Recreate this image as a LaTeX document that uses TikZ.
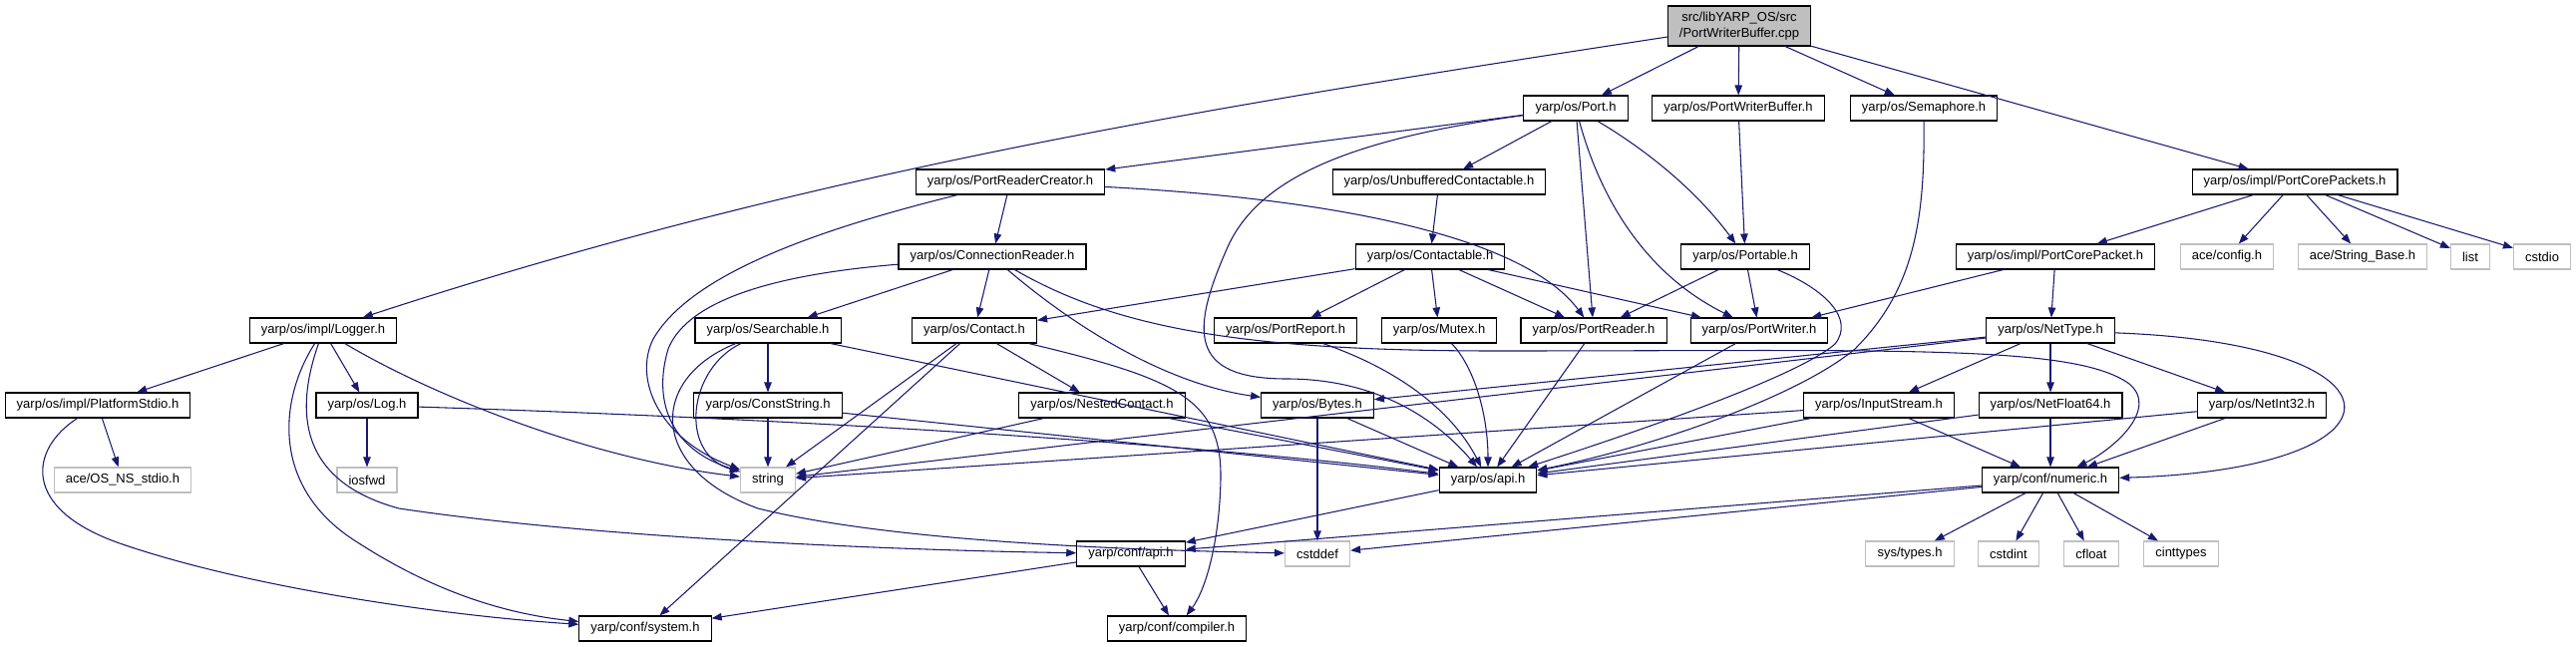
\documentclass[tikz,border=0pt]{standalone}
\usepackage{fontspec}
\setmainfont{Liberation Sans}
\usetikzlibrary{arrows.meta}
\definecolor{edgeblue}{HTML}{191970}
\definecolor{extgray}{HTML}{BFBFBF}
\newcommand\hfnt{\fontsize{9.75}{11.6}\selectfont}

\begin{document}
\begin{tikzpicture}[x=.75pt,y=-.75pt,
  hdr/.style={draw=black,line width=.8pt,inner xsep=8.7pt,inner ysep=0pt,minimum height=18.75pt,font=\hfnt},
  ext/.style={hdr,draw=extgray},
  inc/.style={draw=edgeblue,line width=.8pt,-{Triangle[length=7.5pt,width=5.6pt]}}]
\useasboundingbox(0,0)rectangle(2583,649);
\node[hdr,fill=extgray,align=center,minimum height=30pt](root)at(1744,26){src/libYARP\_OS/src\\/PortWriterBuffer.cpp};
\node[hdr](port)at(1580,108.5){yarp/os/Port.h};\node[hdr](pwb)at(1743,108.5){yarp/os/PortWriterBuffer.h};\node[hdr](sem)at(1929,108.5){yarp/os/Semaphore.h};
\node[hdr](prc)at(1013,182.5){yarp/os/PortReaderCreator.h};\node[hdr](ubc)at(1443,182.5){yarp/os/UnbufferedContactable.h};\node[hdr](pcps)at(2301,182.5){yarp/os/impl/PortCorePackets.h};
\node[hdr](conr)at(995,257.5){yarp/os/ConnectionReader.h};\node[hdr](ctbl)at(1434,257.5){yarp/os/Contactable.h};\node[hdr](ptbl)at(1750,257.5){yarp/os/Portable.h};\node[hdr](pcp)at(2061,257.5){yarp/os/impl/PortCorePacket.h};
\node[ext](acecfg)at(2233,257.5){ace/config.h};\node[ext](strb)at(2369,257.5){ace/String\_Base.h};\node[ext](lst)at(2477,257.5){list};\node[ext](cstdio)at(2549,257.5){cstdio};
\node[hdr](logger)at(324,331.5){yarp/os/impl/Logger.h};\node[hdr](srch)at(770,331.5){yarp/os/Searchable.h};\node[hdr](cont)at(977,331.5){yarp/os/Contact.h};\node[hdr](prep)at(1289,331.5){yarp/os/PortReport.h};
\node[hdr](mtx)at(1443,331.5){yarp/os/Mutex.h};\node[hdr](prd)at(1598,331.5){yarp/os/PortReader.h};\node[hdr](pwr)at(1764,331.5){yarp/os/PortWriter.h};\node[hdr](ntype)at(2056,331.5){yarp/os/NetType.h};
\node[hdr](pstd)at(98,406.5){yarp/os/impl/PlatformStdio.h};\node[hdr](lg)at(368,406.5){yarp/os/Log.h};\node[hdr](cstr)at(770,406.5){yarp/os/ConstString.h};\node[hdr](nest)at(1105,406.5){yarp/os/NestedContact.h};
\node[hdr](byt)at(1321,406.5){yarp/os/Bytes.h};\node[hdr](istr)at(1884,406.5){yarp/os/InputStream.h};\node[hdr](nf64)at(2056,406.5){yarp/os/NetFloat64.h};\node[hdr](ni32)at(2268,406.5){yarp/os/NetInt32.h};
\node[ext](osns)at(123,481.5){ace/OS\_NS\_stdio.h};\node[ext](iosf)at(368,481.5){iosfwd};\node[ext](str)at(770,481.5){string};\node[hdr](osapi)at(1492,481.5){yarp/os/api.h};\node[hdr](num)at(2056,481.5){yarp/conf/numeric.h};
\node[hdr](capi)at(1134,555.5){yarp/conf/api.h};\node[ext](cdef)at(1321,555.5){cstddef};\node[ext](stypes)at(1915,555.5){sys/types.h};\node[ext](cint)at(2014,555.5){cstdint};\node[ext](cflt)at(2097,555.5){cfloat};\node[ext](cinty)at(2187,555.5){cinttypes};
\node[hdr](csys)at(647,630.5){yarp/conf/system.h};\node[hdr](ccomp)at(1180,630.5){yarp/conf/compiler.h};
\draw[inc](root)..controls(1221,106)and(817,170)..(logger);\draw[inc](root)--(port);\draw[inc](root)--(pwb);\draw[inc](root)--(sem);\draw[inc](root)--(pcps);
\draw[inc](port)--(prc);\draw[inc](port)--(ubc);\draw[inc](port)--(prd);
\draw[inc](port)..controls(1350,140)and(1260,180)..(1230,250)..controls(1195,330)and(1190,380)..(1290,380)..controls(1380,380)and(1440,420)..(osapi);
\draw[inc](port)..controls(1605,200)and(1650,275)..(pwr);\draw[inc](port)..controls(1650,150)and(1700,190)..(ptbl);
\draw[inc](pwb)--(ptbl);\draw[inc](sem)..controls(1930,220)and(1920,290)..(1860,350)..controls(1800,400)and(1650,450)..(osapi);
\draw[inc](pcps)--(pcp);\draw[inc](pcps)--(acecfg);\draw[inc](pcps)--(strb);\draw[inc](pcps)--(lst);\draw[inc](pcps)--(cstdio);
\draw[inc](prc)--(conr);\draw[inc](prc)..controls(1350,200)and(1530,240)..(prd);
\draw[inc](prc)..controls(800,235)and(690,280)..(655,340)..controls(635,380)and(660,440)..(str);
\draw[inc](ubc)--(ctbl);
\draw[inc](conr)--(cont);\draw[inc](conr)--(srch);\draw[inc](conr)..controls(1080,330)and(1170,385)..(byt);
\draw[inc](conr)..controls(780,275)and(690,300)..(670,350)..controls(655,400)and(670,450)..(str);
\draw[inc](conr)..controls(1120,330)and(1250,352)..(1500,352)..controls(1900,352)and(2080,345)..(2135,385)..controls(2165,410)and(2120,450)..(num);
\draw[inc](ctbl)--(cont);\draw[inc](ctbl)--(prep);\draw[inc](ctbl)--(mtx);\draw[inc](ctbl)--(prd);\draw[inc](ctbl)--(pwr);
\draw[inc](ptbl)--(prd);\draw[inc](ptbl)--(pwr);\draw[inc](ptbl)..controls(1830,290)and(1860,320)..(1840,345)..controls(1800,380)and(1620,440)..(osapi);
\draw[inc](pcp)--(pwr);\draw[inc](pcp)--(ntype);
\draw[inc](logger)--(pstd);\draw[inc](logger)--(lg);\draw[inc](logger)..controls(430,395)and(590,460)..(str);
\draw[inc](logger)..controls(280,400)and(270,490)..(360,545)..controls(430,590)and(500,615)..(csys);
\draw[inc](logger)..controls(300,400)and(290,480)..(400,510)..controls(600,540)and(900,552)..(capi);
\draw[inc](pstd)--(osns);\draw[inc](pstd)..controls(30,450)and(20,510)..(120,545)..controls(250,590)and(450,618)..(csys);
\draw[inc](lg)--(iosf);\draw[inc](lg)..controls(800,420)and(1200,445)..(osapi);
\draw[inc](srch)--(cstr);\draw[inc](srch)--(osapi);\draw[inc](srch)..controls(690,370)and(680,455)..(str);
\draw[inc](srch)..controls(650,380)and(650,470)..(760,510)..controls(900,545)and(1150,552)..(cdef);
\draw[inc](cstr)--(str);\draw[inc](cstr)--(osapi);
\draw[inc](cont)--(nest);\draw[inc](cont)--(str);\draw[inc](cont)--(csys);
\draw[inc](cont)..controls(1180,380)and(1225,400)..(1224,480)..controls(1223,540)and(1210,590)..(ccomp);
\draw[inc](nest)--(osapi);\draw[inc](nest)--(str);
\draw[inc](prep)..controls(1400,370)and(1455,410)..(osapi);\draw[inc](mtx)..controls(1480,370)and(1492,420)..(osapi);
\draw[inc](prd)--(osapi);\draw[inc](pwr)--(osapi);
\draw[inc](byt)--(osapi);\draw[inc](byt)--(cdef);
\draw[inc](ntype)--(byt);\draw[inc](ntype)--(str);\draw[inc](ntype)--(istr);\draw[inc](ntype)--(nf64);\draw[inc](ntype)--(ni32);
\draw[inc](ntype)..controls(2425,345)and(2425,470)..(num);
\draw[inc](istr)--(str);\draw[inc](istr)--(osapi);\draw[inc](istr)--(num);
\draw[inc](nf64)--(osapi);\draw[inc](nf64)--(num);\draw[inc](ni32)--(osapi);\draw[inc](ni32)--(num);
\draw[inc](num)--(capi);\draw[inc](num)--(cdef);\draw[inc](num)--(stypes);\draw[inc](num)--(cint);\draw[inc](num)--(cflt);\draw[inc](num)--(cinty);
\draw[inc](osapi)--(capi);\draw[inc](capi)--(csys);\draw[inc](capi)--(ccomp);
\end{tikzpicture}
\end{document}
